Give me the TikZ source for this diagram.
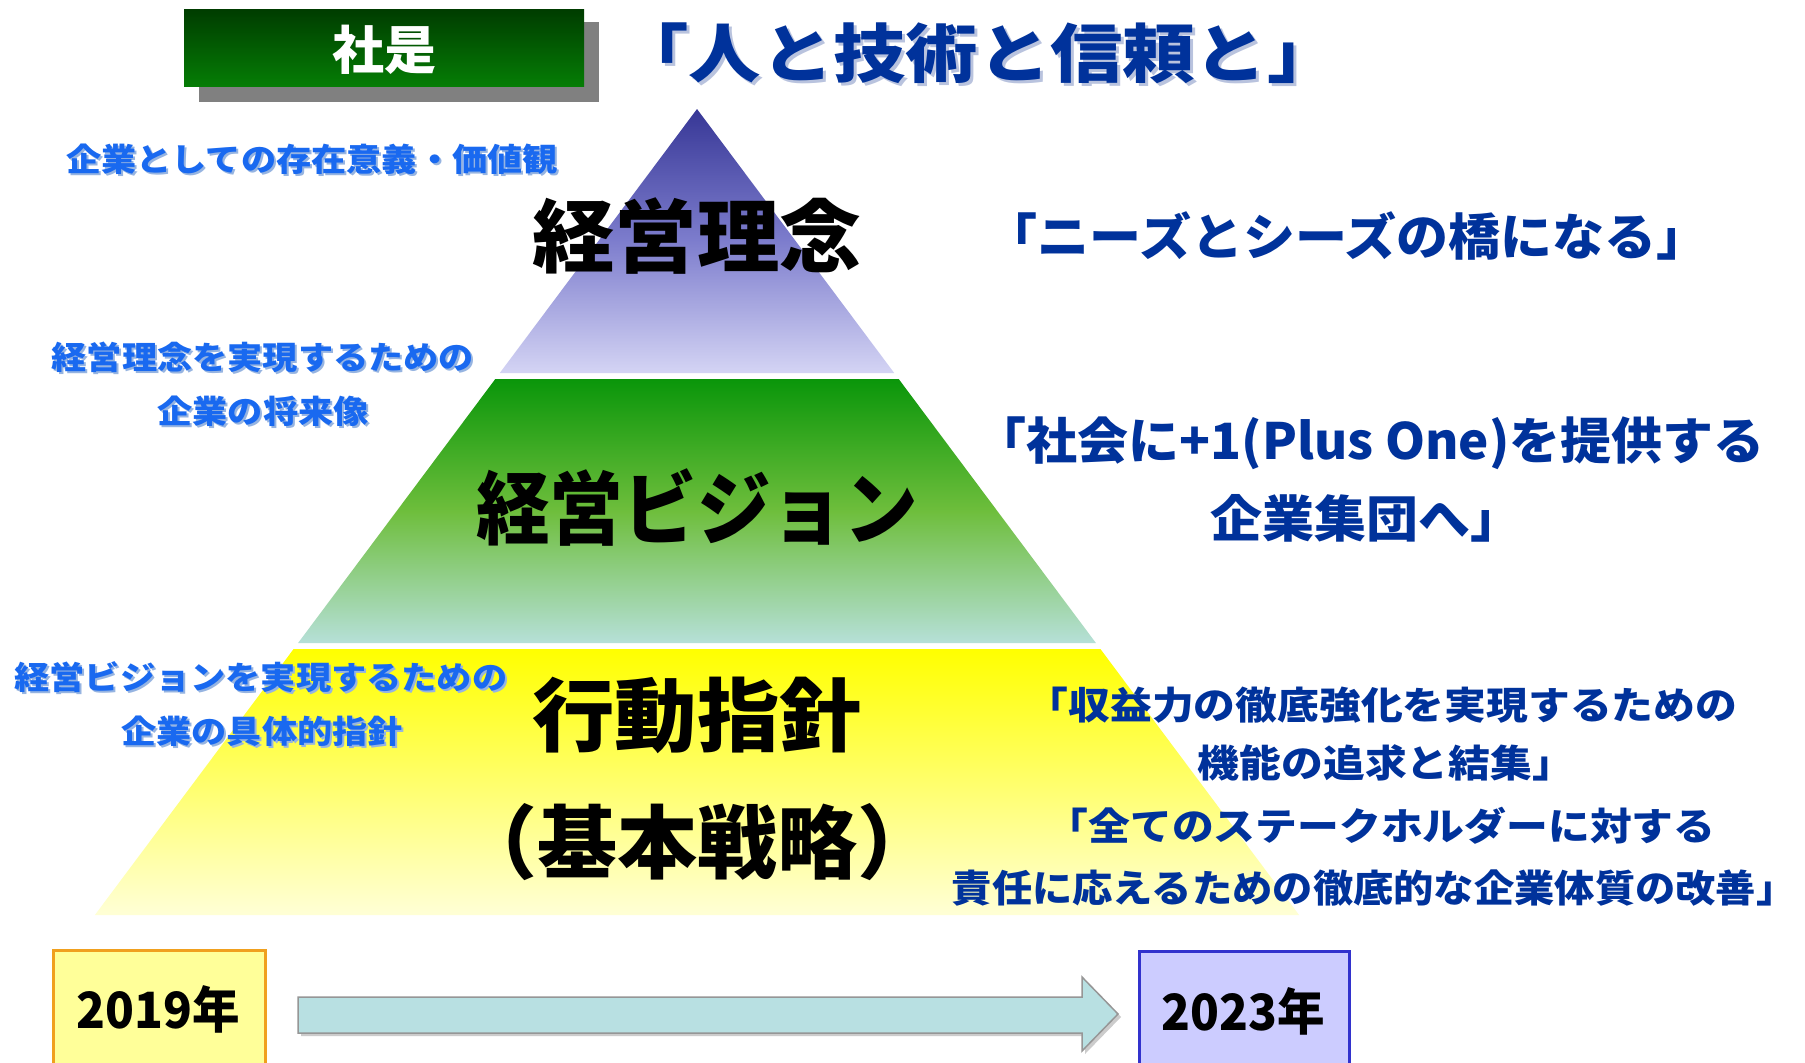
\documentclass[tikz,border=0pt]{standalone}
\usepackage{fontspec}
\usepackage{graphicx}
\setmainfont{Noto Sans CJK JP}
\newfontfamily\jp{Noto Sans CJK JP}
\definecolor{navy}{RGB}{0,50,155}
\definecolor{navyshadow}{RGB}{185,195,222}
\definecolor{lblue}{RGB}{25,105,240}
\definecolor{lshadow}{RGB}{150,180,225}
\definecolor{boxdark}{RGB}{0,60,0}
\definecolor{boxlight}{RGB}{5,125,5}
\definecolor{boxshadow}{RGB}{128,128,128}
\definecolor{purpletop}{RGB}{55,55,150}
\definecolor{purplebot}{RGB}{212,212,244}
\definecolor{greentop}{RGB}{10,150,10}
\definecolor{greenbot}{RGB}{182,224,216}
\definecolor{yellowtop}{RGB}{255,255,0}
\definecolor{yellowbot}{RGB}{255,255,214}
\definecolor{yearyellow}{RGB}{255,255,153}
\definecolor{yearorange}{RGB}{240,160,30}
\definecolor{yearlav}{RGB}{204,204,255}
\definecolor{yearblue}{RGB}{50,50,205}
\definecolor{arrowfill}{RGB}{184,224,226}
\definecolor{arrowline}{RGB}{150,150,150}
\newcommand{\closeq}{\makebox[0.5em][l]{」}}
\begin{document}
\begin{tikzpicture}[x=1pt,y=-1pt,
  base/.style={inner sep=0pt, outer sep=0pt, anchor=center},
  bigblack/.style={base, text=black, font=\jp\bfseries\fontsize{80}{90}\selectfont},
  leftlbl/.style={base, text=lblue, font=\jp\bfseries\fontsize{32}{40}\selectfont},
  leftsh/.style={base, text=lshadow, font=\jp\bfseries\fontsize{32}{40}\selectfont},
  rightbig/.style={base, text=navy, font=\jp\bfseries\fontsize{50}{60}\selectfont},
  rightsmall/.style={base, text=navy, font=\jp\bfseries\fontsize{38}{46}\selectfont},
  yearbox/.style={line width=3pt},
  yeartext/.style={base, text=black, font=\jp\bfseries\fontsize{50}{60}\selectfont}
]
\useasboundingbox[fill=white] (0,0) rectangle (1805,1063);

% ---------- header ----------
\fill[boxshadow] (199,22) rectangle (599,102);
\shade[top color=boxdark, bottom color=boxlight] (184,9) rectangle (584,86);
\node[base, text=white, font=\jp\bfseries\fontsize{52}{60}\selectfont] (shaze) at (384,50) {社是};
\node[base, text=navyshadow, font=\jp\bfseries\fontsize{64}{72}\selectfont] (titlesh) at (981,56) {\scalebox{1.13}[1]{「人と技術と信頼と」}};
\node[base, text=navy, font=\jp\bfseries\fontsize{64}{72}\selectfont] (title) at (978,53) {\scalebox{1.13}[1]{「人と技術と信頼と」}};

% ---------- pyramid ----------
\coordinate (apex) at (697,109);
\coordinate (t1l) at (499.8,373);  \coordinate (t1r) at (894.2,373);
\coordinate (t2tl) at (495.3,379); \coordinate (t2tr) at (898.7,379);
\coordinate (t2bl) at (298.1,643); \coordinate (t2br) at (1095.9,643);
\coordinate (t3tl) at (293.6,649); \coordinate (t3tr) at (1100.4,649);
\coordinate (t3bl) at (94.9,915);  \coordinate (t3br) at (1299.1,915);
\shade[top color=purpletop, bottom color=purplebot, middle color={rgb,255:red,125;green,125;blue,205}] (apex) -- (t1r) -- (t1l) -- cycle;
\shade[top color=greentop, bottom color=greenbot, middle color={rgb,255:red,110;green,190;blue,60}] (t2tl) -- (t2tr) -- (t2br) -- (t2bl) -- cycle;
\shade[top color=yellowtop, bottom color=yellowbot] (t3tl) -- (t3tr) -- (t3br) -- (t3bl) -- cycle;

\node[bigblack] (rinen) at (697,236) {\scalebox{1.03}[1]{経営理念}};
\node[bigblack] (vision) at (697,507) {\scalebox{0.92}[1]{経営ビジョン}};
\node[bigblack] (koudou) at (697,715) {\scalebox{1.03}[1]{行動指針}};
\node[bigblack] (senryaku) at (697,842) {（基本戦略）};

% ---------- left labels ----------
\node[leftsh] (l1s) at (314,161) {\scalebox{1.1}[1]{企業としての存在意義・価値観}};
\node[leftlbl] (l1) at (312,159) {\scalebox{1.1}[1]{企業としての存在意義・価値観}};
\node[leftsh] (l2s) at (265,359) {\scalebox{1.1}[1]{経営理念を実現するための}};
\node[leftlbl] (l2) at (263,357) {\scalebox{1.1}[1]{経営理念を実現するための}};
\node[leftsh] (l3s) at (265,413) {\scalebox{1.1}[1]{企業の将来像}};
\node[leftlbl] (l3) at (263,411) {\scalebox{1.1}[1]{企業の将来像}};
\node[leftsh] (l4s) at (263,679) {\scalebox{1.1}[1]{経営ビジョンを実現するための}};
\node[leftlbl] (l4) at (261,677) {\scalebox{1.1}[1]{経営ビジョンを実現するための}};
\node[leftsh] (l5s) at (264,733) {\scalebox{1.1}[1]{企業の具体的指針}};
\node[leftlbl] (l5) at (262,731) {\scalebox{1.1}[1]{企業の具体的指針}};

% ---------- right texts ----------
\node[rightbig] (r1) at (1347,236) {\scalebox{1.04}[1]{「ニーズとシーズの橋になる」}};
\node[rightbig] (r2) at (1370,443) {\scalebox{1.02}[1]{「社会に+1(Plus One)を提供する}};
\node[rightbig] (r3) at (1366,518) {\scalebox{1.04}[1]{企業集団へ」}};
\node[rightsmall] (r4) at (1382,705) {\scalebox{1.1}[1]{「収益力の徹底強化を実現するための}};
\node[rightsmall] (r5) at (1386,763) {\scalebox{1.1}[1]{機能の追求と結集」}};
\node[rightsmall] (r6) at (1381,826) {\scalebox{1.1}[1]{「全てのステークホルダーに対する}};
\node[rightsmall] (r7) at (1364,888) {\scalebox{1.06}[1]{責任に応えるための徹底的な企業体質の改善\closeq}};

% ---------- timeline ----------
\filldraw[fill=yearyellow, draw=yearorange, yearbox] (53,950) rectangle (265,1075);
\node[yeartext] (y2019) at (158,1009) {\scalebox{0.95}[1]{2019年}};
\filldraw[fill=yearlav, draw=yearblue, yearbox] (1139,951) rectangle (1349,1075);
\node[yeartext] (y2023) at (1243,1011) {\scalebox{0.95}[1]{2023年}};
\fill[gray!40] (301,1000) -- (1085,1000) -- (1085,980) -- (1121,1017) -- (1085,1054) -- (1085,1036) -- (301,1036) -- cycle;
\filldraw[fill=arrowfill, draw=arrowline, line width=1.5pt] (298,997) -- (1082,997) -- (1082,977) -- (1118,1014) -- (1082,1051) -- (1082,1033) -- (298,1033) -- cycle;
\end{tikzpicture}
\end{document}
